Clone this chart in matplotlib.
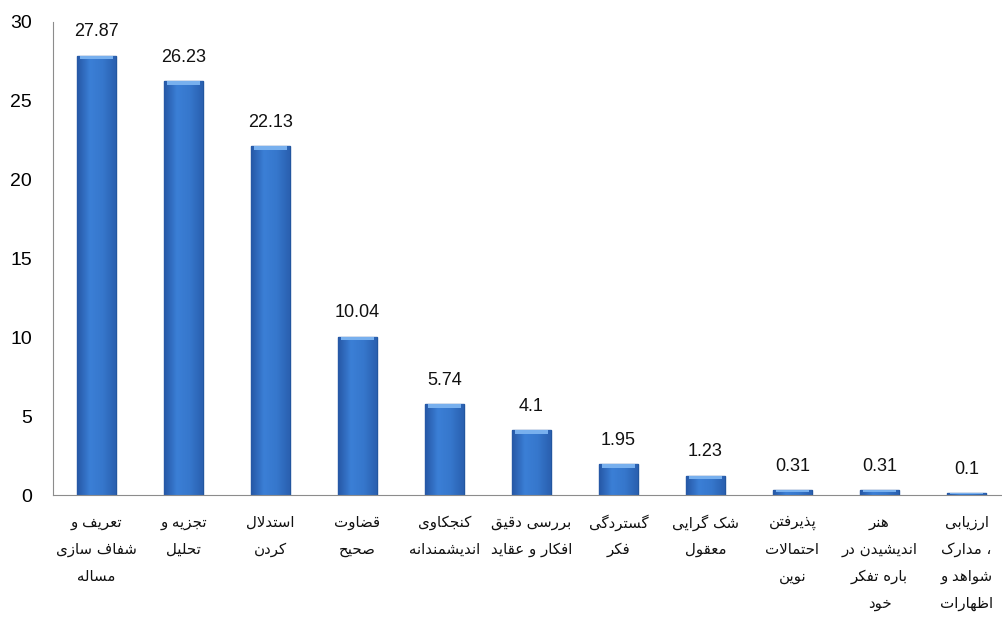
import matplotlib
matplotlib.use('Agg')
import matplotlib.pyplot as plt
from matplotlib.colors import LinearSegmentedColormap
import numpy as np

# data
values = [27.87, 26.23, 22.13, 10.04, 5.74, 4.1, 1.95, 1.23, 0.31, 0.31, 0.1]
value_text = ['27.87', '26.23', '22.13', '10.04', '5.74', '4.1', '1.95', '1.23', '0.31', '0.31', '0.1']
categories = [
    ['تعریف و', 'شفاف سازی', 'مساله'],
    ['تجزیه و', 'تحلیل'],
    ['استدلال', 'کردن'],
    ['قضاوت', 'صحیح'],
    ['کنجکاوی', 'اندیشمندانه'],
    ['بررسی دقیق', 'افکار و عقاید'],
    ['گستردگی', 'فکر'],
    ['شک گرایی', 'معقول'],
    ['پذیرفتن', 'احتمالات', 'نوین'],
    ['هنر', 'اندیشیدن در', 'باره تفکر', 'خود'],
    ['ارزیابی', '، مدارک', 'شواهد و', 'اظهارات'],
]
yticks = [0, 5, 10, 15, 20, 25, 30]

# presentation forms: isolated, final, initial, medial (None -> joins only to the right)
FORMS = {
    'ا': ('\uFE8D', '\uFE8E', None, None),
    'ب': ('\uFE8F', '\uFE90', '\uFE91', '\uFE92'),
    'پ': ('\uFB56', '\uFB57', '\uFB58', '\uFB59'),
    'ت': ('\uFE95', '\uFE96', '\uFE97', '\uFE98'),
    'ج': ('\uFE9D', '\uFE9E', '\uFE9F', '\uFEA0'),
    'ح': ('\uFEA1', '\uFEA2', '\uFEA3', '\uFEA4'),
    'خ': ('\uFEA5', '\uFEA6', '\uFEA7', '\uFEA8'),
    'د': ('\uFEA9', '\uFEAA', None, None),
    'ذ': ('\uFEAB', '\uFEAC', None, None),
    'ر': ('\uFEAD', '\uFEAE', None, None),
    'ز': ('\uFEAF', '\uFEB0', None, None),
    'س': ('\uFEB1', '\uFEB2', '\uFEB3', '\uFEB4'),
    'ش': ('\uFEB5', '\uFEB6', '\uFEB7', '\uFEB8'),
    'ص': ('\uFEB9', '\uFEBA', '\uFEBB', '\uFEBC'),
    'ض': ('\uFEBD', '\uFEBE', '\uFEBF', '\uFEC0'),
    'ظ': ('\uFEC5', '\uFEC6', '\uFEC7', '\uFEC8'),
    'ع': ('\uFEC9', '\uFECA', '\uFECB', '\uFECC'),
    'ف': ('\uFED1', '\uFED2', '\uFED3', '\uFED4'),
    'ق': ('\uFED5', '\uFED6', '\uFED7', '\uFED8'),
    'ک': ('\uFB8E', '\uFB8F', '\uFB90', '\uFB91'),
    'گ': ('\uFB92', '\uFB93', '\uFB94', '\uFB95'),
    'ل': ('\uFEDD', '\uFEDE', '\uFEDF', '\uFEE0'),
    'م': ('\uFEE1', '\uFEE2', '\uFEE3', '\uFEE4'),
    'ن': ('\uFEE5', '\uFEE6', '\uFEE7', '\uFEE8'),
    'ه': ('\uFEE9', '\uFEEA', '\uFEEB', '\uFEEC'),
    'و': ('\uFEED', '\uFEEE', None, None),
    'ی': ('\uFBFC', '\uFBFD', '\uFBFE', '\uFBFF'),
}


def shape(text):
    # join the letters and return them in visual (left to right) order
    chars = list(text)
    out = []
    i = 0
    while i < len(chars):
        c = chars[i]
        if c not in FORMS:
            out.append(c)
            i += 1
            continue
        prev = chars[i - 1] if i > 0 else None
        joins_prev = prev in FORMS and FORMS[prev][2] is not None
        if c == 'ل' and i + 1 < len(chars) and chars[i + 1] == 'ا':
            out.append('\uFEFC' if joins_prev else '\uFEFB')
            i += 2
            continue
        nxt = chars[i + 1] if i + 1 < len(chars) else None
        joins_next = FORMS[c][2] is not None and nxt in FORMS
        f = FORMS[c]
        if joins_prev and joins_next:
            out.append(f[3])
        elif joins_prev:
            out.append(f[1])
        elif joins_next:
            out.append(f[2])
        else:
            out.append(f[0])
        i += 1
    return ''.join(out[::-1])


fig = plt.figure(figsize=(10.02, 6.43), dpi=100)
ax = fig.add_axes([53 / 1002, (643 - 495) / 643, (1010 - 53) / 1002, (495 - 22) / 643])

x = np.arange(len(values))
bars = ax.bar(x, values, width=0.44, color='#3372c6', edgecolor='#22569f', linewidth=1.0, zorder=2)

# shading across each bar, darker at the sides
shade = LinearSegmentedColormap.from_list('shade', ['#2658a6', '#3b7fd6', '#3677cc', '#2a60b0'])
grad = np.linspace(0, 1, 64).reshape(1, -1)
for b in bars:
    x0, w, h = b.get_x(), b.get_width(), b.get_height()
    im = ax.imshow(grad, cmap=shade, extent=[x0, x0 + w, 0, h], aspect='auto', zorder=2.5)
    im.set_clip_path(b)
    cap = min(0.22, h * 0.45)
    ax.bar(x0 + w / 2, cap, bottom=h - cap, width=w * 0.86, color='#78b0ee', linewidth=0, zorder=3)

for xi, v, t in zip(x, values, value_text):
    ax.annotate(t, (xi, v), xytext=(0, 11), textcoords='offset points', ha='center', va='bottom',
                fontsize=13, family='Liberation Sans', color='#111111')

ax.set_xlim(-0.5, len(values) - 0.5)
ax.set_ylim(0, 30)
ax.set_yticks(yticks)
ax.set_yticklabels([str(t) for t in yticks], fontsize=14, family='Liberation Sans')
ax.tick_params(axis='y', length=0, pad=15)
ax.set_xticks([])
for s in ['top', 'right']:
    ax.spines[s].set_visible(False)
ax.spines['left'].set_color('#8c8c8c')
ax.spines['bottom'].set_color('#8c8c8c')

for xi, lines in zip(x, categories):
    for j, line in enumerate(lines):
        ax.text(xi, -1.75 - j * 1.72, shape(line), ha='center', va='center',
                fontsize=10.8, family='DejaVu Sans', color='#111111')

plt.savefig('out.png', dpi=100)
